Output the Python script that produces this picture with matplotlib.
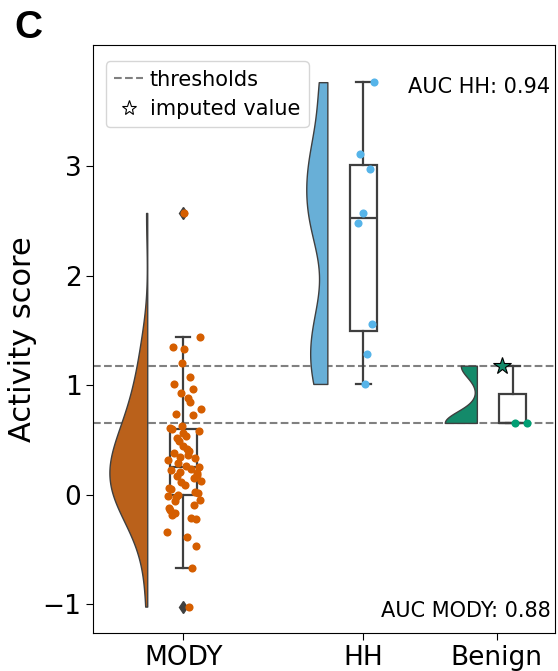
import colorsys
import numpy as np
import matplotlib
matplotlib.use("Agg")
import matplotlib.pyplot as plt
from matplotlib.lines import Line2D
import matplotlib.colors as mcolors

# Data
groups = ["MODY", "HH", "Benign"]
mody_scores = [2.575, 1.438, 1.350, 1.335, 1.207, 1.073, 1.012, 0.966, 0.929, 0.884,
               0.844, 0.783, 0.737, 0.731, 0.625, 0.61, 0.600, 0.58, 0.564, 0.539,
               0.52, 0.488, 0.45, 0.42, 0.396, 0.381, 0.366, 0.350, 0.335, 0.320,
               0.289, 0.259, 0.25, 0.24, 0.229, 0.21, 0.198, 0.183, 0.168, 0.152,
               0.122, 0.113, 0.091, 0.061, 0.05, 0.030, 0.015, 0.0, -0.009, -0.02,
               -0.046, -0.06, -0.091, -0.12, -0.137, -0.168, -0.183, -0.213, -0.222,
               -0.344, -0.381, -0.466, -0.664, -1.021]
hh_scores = [3.77, 3.115, 2.974, 2.575, 2.483, 1.565, 1.286, 1.013]
benign_scores = [0.657, 0.657]
benign_imputed = [1.18]
thresholds = [1.18, 0.655]
auc_hh = 0.94
auc_mody = 0.88

colors = ["#D55E00", "#56B4E9", "#009E73"]


def desaturate(c, prop=0.75):
    r, g, b = mcolors.to_rgb(c)
    h, l, s = colorsys.rgb_to_hls(r, g, b)
    return colorsys.hls_to_rgb(h, l, s * prop)


def kde(data, grid, factor):
    data = np.asarray(data)
    bw = factor * data.std(ddof=1)
    z = (grid[:, None] - data[None, :]) / bw
    return np.exp(-0.5 * z ** 2).sum(axis=1)


positions = [0, 1, 1.83]
tick_pos = [0, 1, 1.74]
violin_w = [0.21, 0.117, 0.178]
bw_factor = [0.5, 0.35, 0.35]
jitter_range = [(-0.09, 0.1), (-0.03, 0.06), (0.01, 0.08)]
box_data = [mody_scores, hh_scores, benign_scores + benign_imputed]
point_data = [mody_scores, hh_scores, benign_scores]
edge = "#3f3f3f"

fig, ax = plt.subplots(figsize=(5.58, 6.71), dpi=100)
fig.subplots_adjust(left=0.167, right=0.995, bottom=0.057, top=0.933)

for y in thresholds:
    ax.axhline(y, color="gray", ls="--", lw=1.5, zorder=0)

# half violins
for i, d in enumerate(box_data):
    grid = np.linspace(min(d), max(d), 300)
    dens = kde(d, grid, bw_factor[i])
    dens = dens / dens.max() * violin_w[i]
    x0 = positions[i] - 0.2
    ax.fill_betweenx(grid, x0 - dens, x0, facecolor=desaturate(colors[i]),
                     edgecolor=edge, lw=1.0, zorder=2)

# boxes
ax.boxplot(box_data, positions=positions, widths=0.15, patch_artist=True,
           manage_ticks=False, capwidths=0.08,
           boxprops=dict(facecolor="none", edgecolor=edge, lw=1.6),
           medianprops=dict(color=edge, lw=1.6),
           whiskerprops=dict(color=edge, lw=1.6),
           capprops=dict(color=edge, lw=1.6),
           flierprops=dict(marker="d", markerfacecolor=edge, markeredgecolor=edge,
                           markersize=6),
           zorder=3)

# jittered points (spread evenly, shuffled)
rng = np.random.default_rng(5)
for i, d in enumerate(point_data):
    lo, hi = jitter_range[i]
    jit = rng.permutation(np.linspace(lo, hi, len(d)))
    ax.scatter(positions[i] + jit, d, s=34, color=colors[i], lw=0, zorder=4)

ax.plot([positions[2] - 0.06], benign_imputed, marker="*", ls="none",
        markersize=13, markerfacecolor=desaturate(colors[2]),
        markeredgecolor="black", markeredgewidth=0.8, zorder=5)

ax.set_xlim(-0.5, 2.065)
ax.set_ylim(-1.26, 4.11)
ax.set_xticks(tick_pos)
ax.set_xticklabels(groups)
ax.set_yticks([-1, 0, 1, 2, 3])
ax.tick_params(labelsize=19, length=5)
ax.set_ylabel("Activity score", fontsize=22)

ax.text(0.99, 0.945, f"AUC HH: {auc_hh}", transform=ax.transAxes,
        ha="right", va="top", fontsize=15)
ax.text(0.99, 0.02, f"AUC MODY: {auc_mody}", transform=ax.transAxes,
        ha="right", va="bottom", fontsize=15)

handles = [Line2D([], [], color="gray", ls="--", lw=1.5),
           Line2D([], [], marker="*", ls="none", markersize=11,
                  markerfacecolor="white", markeredgecolor="black",
                  markeredgewidth=0.8)]
ax.legend(handles, ["thresholds", "imputed value"], loc="upper left",
          fontsize=15, handlelength=1.35, handletextpad=0.35,
          borderpad=0.4, labelspacing=0.45, borderaxespad=0.0,
          bbox_to_anchor=(0.028, 0.972))

fig.text(0.025, 0.958, "C", fontsize=28, fontweight="bold",
         family="Liberation Sans", ha="left", va="center")

fig.savefig("out.png", dpi=100)
